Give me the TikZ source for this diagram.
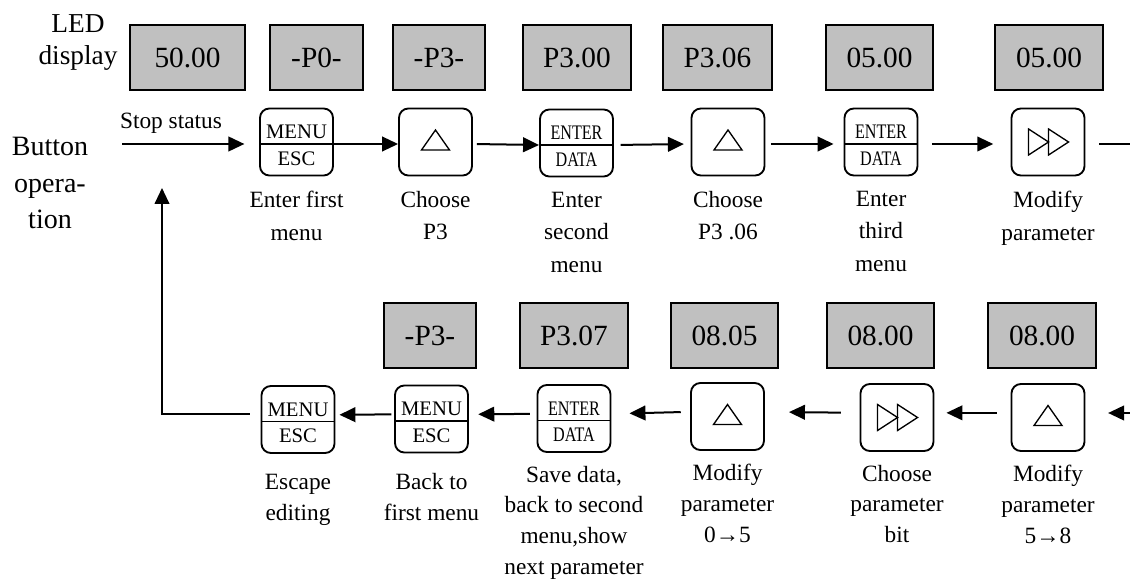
\documentclass[tikz,border=0pt]{standalone}
\usepackage{fontspec}
\setmainfont{Liberation Serif}
\newfontfamily\condfont[FakeStretch=0.78]{Liberation Serif}
\usepackage{tikz}
\usetikzlibrary{positioning, arrows.meta}
\definecolor{cinzaled}{RGB}{192,192,192}

\begin{document}
\begin{tikzpicture}[
  x = 0.75pt, y = 0.75pt,
  node distance = 11pt and 0pt,
  visor/.style = {draw, line width=1.4pt, fill=cinzaled, minimum height=48.75pt, inner sep=0pt, font=\fontsize{22}{26}\selectfont},
  tecla/.style = {draw, line width=1.4pt, rounded corners=7pt, minimum width=54.75pt, minimum height=50.25pt, inner sep=0pt},
  dupla/.style 2 args = {tecla, path picture={
      \draw[line width=1.1pt] ([yshift=-1.5pt]path picture bounding box.west) -- ([yshift=-1.5pt]path picture bounding box.east);
      \node[font=\fontsize{15.5}{18}\selectfont, anchor=base, inner sep=0pt] at ([yshift=2.6pt]path picture bounding box.center) {#1};
      \node[font=\fontsize{15.5}{18}\selectfont, anchor=base, inner sep=0pt] at ([yshift=-17.4pt]path picture bounding box.center) {#2};}},
  cima/.style = {tecla, path picture={
      \draw[line width=1pt, sharp corners] ([shift={(-10.5pt,-6pt)}]path picture bounding box.center) -- ++(21pt,0pt) -- ++(-10.5pt,15pt) -- cycle;}},
  avanca/.style = {tecla, path picture={
      \draw[line width=1pt, sharp corners] ([shift={(-14.6pt,-9.75pt)}]path picture bounding box.center) -- ++(0pt,19.5pt) -- ++(15pt,-9.75pt) -- cycle;
      \draw[line width=1pt, sharp corners] ([shift={(0.4pt,-9.75pt)}]path picture bounding box.center) -- ++(0pt,19.5pt) -- ++(15pt,-9.75pt) -- cycle;}},
  legenda/.style = {align=center, inner sep=0pt, font=\fontsize{17.5}{24.2}\selectfont},
  legbaixo/.style = {legenda, font=\fontsize{17.5}{23.2}\selectfont},
  lateral/.style = {align=center, inner sep=0pt, font=\fontsize{20.5}{24}\selectfont},
  seta/.style = {-{Triangle[length=12pt, width=11pt]}, line width=1.5pt},
]
\useasboundingbox (0,0) rectangle (1130,-580);

% lado esquerdo
\node[lateral] (led) at (78,-43) {LED\\display};
\node[lateral, font=\fontsize{21}{27.7}\selectfont] (btn) at (50,-183) {Button\\opera-\\tion};

% linha de cima
\node[visor, minimum width=86pt] (l0) at (187.5,-57.5) {50.00};
\node[visor, minimum width=70pt] (l1) at (316.5,-57.5) {-P0-};
\node[visor, minimum width=69pt] (l2) at (439,-57.5) {-P3-};
\node[visor, minimum width=81pt] (l3) at (577,-57.5) {P3.00};
\node[visor, minimum width=81.75pt] (l4) at (717.5,-57.5) {P3.06};
\node[visor, minimum width=80.25pt] (l5) at (879.5,-57.5) {05.00};
\node[visor, minimum width=81pt] (l6) at (1049,-57.5) {05.00};

\node[dupla={MENU}{ESC}] (b1) at (296.5,-142) {};
\node[cima] (b2) at (435.5,-142) {};
\node[dupla={\condfont ENTER}{\condfont DATA}] (b3) at (576.5,-143) {};
\node[cima] (b4) at (728,-142) {};
\node[dupla={\condfont ENTER}{\condfont DATA}] (b5) at (881,-142) {};
\node[avanca] (b6) at (1048,-142) {};

\node[legenda, below=of b1] (t1) {Enter first\\menu};
\node[legenda, below=of b2] (t2) {Choose\\P3};
\node[legenda, below=of b3] (t3) {Enter\\second\\menu};
\node[legenda, below=of b4] (t4) {Choose\\P3 .06};
\node[legenda, below=of b5] (t5) {Enter\\third\\menu};
\node[legenda, below=of b6] (t6) {Modify\\parameter};

\coordinate (stop) at (122,-144);
\coordinate (fim) at (1130,-144);
\node[legenda, anchor=base] (st) at (171,-129) {Stop status};
\draw[seta, shorten >=11pt] (stop) -- (stop -| b1.west);
\draw[seta] ([yshift=-1.5pt]b1.east) -- ([yshift=-1.5pt]b2.west);
\draw[seta, shorten <=3pt] ([yshift=-1.5pt]b2.east) -- ([yshift=-1.5pt]b3.west);
\draw[seta, shorten <=5pt, shorten >=5pt] ([yshift=-1.5pt]b3.east) -- ([yshift=-1.5pt]b4.west);
\draw[seta, shorten <=4pt, shorten >=7.5pt] ([yshift=-1.5pt]b4.east) -- ([yshift=-1.5pt]b5.west);
\draw[seta, shorten <=10pt, shorten >=13pt] ([yshift=-1.5pt]b5.east) -- ([yshift=-1.5pt]b6.west);
\draw[line width=1.5pt, shorten <=10.5pt] (b6.east |- fim) -- (fim);

% linha de baixo
\node[visor, minimum width=69pt] (m1) at (430,-335.5) {-P3-};
\node[visor, minimum width=81pt] (m2) at (574,-335.5) {P3.07};
\node[visor, minimum width=80.25pt] (m3) at (724.5,-335.5) {08.05};
\node[visor, minimum width=80.25pt] (m4) at (880.5,-335.5) {08.00};
\node[visor, minimum width=81pt] (m5) at (1042,-335.5) {08.00};

\node[dupla={MENU}{ESC}] (c1) at (298,-419.5) {};
\node[dupla={MENU}{ESC}] (c2) at (431.5,-419) {};
\node[dupla={\condfont ENTER}{\condfont DATA}] (c3) at (574,-418.5) {};
\node[cima] (c4) at (727.5,-416.5) {};
\node[avanca] (c5) at (897,-417.5) {};
\node[cima] (c6) at (1048,-417.5) {};

\node[legbaixo, below=15pt of c1] (u1) {Escape\\editing};
\node[legbaixo, below=15pt of c2] (u2) {Back to\\first menu};
\node[legbaixo, below=9.5pt of c3] (u3) {Save data,\\back to second\\menu,show\\next parameter};
\node[legbaixo, below=9.5pt of c4] (u4) {Modify\\parameter\\0→5};
\node[legbaixo, below=9.5pt of c5] (u5) {Choose\\parameter\\bit};
\node[legbaixo, below=9.5pt of c6] (u6) {Modify\\parameter\\5→8};

\coordinate (ini) at (1130,-413);
\coordinate (volta) at (162,-188);
\draw[seta, shorten >=17pt] (ini) -- (ini -| c6.east);
\draw[seta, shorten <=10.5pt, shorten >=9pt] ([yshift=3.5pt]c6.west) -- ([yshift=3.5pt]c5.east);
\draw[seta, shorten <=14pt, shorten >=18pt] ([yshift=3.5pt]c5.west) -- ([yshift=3.5pt]c4.east);
\draw[seta, shorten <=7pt, shorten >=13.5pt] ([yshift=3.5pt]c4.west) -- ([yshift=3.5pt]c3.east);
\draw[seta, shorten <=5pt, shorten >=7pt] ([yshift=3.5pt]c3.west) -- ([yshift=3.5pt]c2.east);
\draw[seta, shorten <=2pt, shorten >=3pt] ([yshift=3.5pt]c2.west) -- ([yshift=3.5pt]c1.east);
\draw[seta, shorten <=8pt] ([yshift=4.5pt]c1.west) -| (volta);
\end{tikzpicture}
\end{document}
